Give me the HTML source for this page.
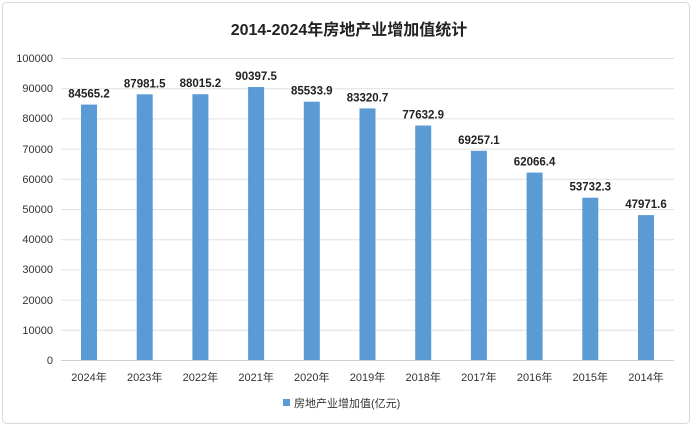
<!DOCTYPE html><html><head><meta charset="utf-8"><style>body{margin:0;background:#fff}</style></head><body>
<svg width="698" height="434" xmlns="http://www.w3.org/2000/svg" font-family="Liberation Sans, Noto Sans CJK SC, sans-serif">
<rect x="2.5" y="2.5" width="687" height="421" rx="4" fill="#fff" stroke="#d9d9d9"/>
<text x="349" y="35" text-anchor="middle" font-size="16" font-weight="bold" fill="#222">2014-2024年房地产业增加值统计</text>
<g stroke="#e0e0e0" stroke-width="1">
<line x1="61" x2="674" y1="58.5" y2="58.5"/><line x1="61" x2="674" y1="88.7" y2="88.7"/><line x1="61" x2="674" y1="118.9" y2="118.9"/><line x1="61" x2="674" y1="149.1" y2="149.1"/><line x1="61" x2="674" y1="179.3" y2="179.3"/><line x1="61" x2="674" y1="209.5" y2="209.5"/><line x1="61" x2="674" y1="239.7" y2="239.7"/><line x1="61" x2="674" y1="269.9" y2="269.9"/><line x1="61" x2="674" y1="300.1" y2="300.1"/><line x1="61" x2="674" y1="330.3" y2="330.3"/>
</g>
<line x1="61" x2="674" y1="360.5" y2="360.5" stroke="#d0d0d0"/>
<g font-size="11" fill="#333" text-anchor="end">
<text x="53" y="62">100000</text><text x="53" y="92">90000</text><text x="53" y="122">80000</text><text x="53" y="153">70000</text><text x="53" y="183">60000</text><text x="53" y="213">50000</text><text x="53" y="243">40000</text><text x="53" y="273">30000</text><text x="53" y="304">20000</text><text x="53" y="334">10000</text><text x="53" y="364">0</text>
</g>
<g fill="#5b9bd5">
<rect x="81" y="104.6" width="16" height="255.4"/>
<rect x="136.7" y="94.3" width="16" height="265.7"/>
<rect x="192.4" y="94.2" width="16" height="265.8"/>
<rect x="248.1" y="87" width="16" height="273"/>
<rect x="303.8" y="101.7" width="16" height="258.3"/>
<rect x="359.5" y="108.4" width="16" height="251.6"/>
<rect x="415.2" y="125.5" width="16" height="234.5"/>
<rect x="470.9" y="150.8" width="16" height="209.2"/>
<rect x="526.6" y="172.6" width="16" height="187.4"/>
<rect x="582.3" y="197.7" width="16" height="162.3"/>
<rect x="638" y="215.1" width="16" height="144.9"/>
</g>
<g font-size="11.5" font-weight="bold" fill="#222" text-anchor="middle">
<text x="89" y="97.6">84565.2</text>
<text x="144.7" y="87.3">87981.5</text>
<text x="200.4" y="87.2">88015.2</text>
<text x="256.1" y="80">90397.5</text>
<text x="311.8" y="94.7">85533.9</text>
<text x="367.5" y="101.4">83320.7</text>
<text x="423.2" y="118.5">77632.9</text>
<text x="478.9" y="143.8">69257.1</text>
<text x="534.6" y="165.6">62066.4</text>
<text x="590.3" y="190.7">53732.3</text>
<text x="646" y="208.1">47971.6</text>
</g>
<g font-size="11" fill="#333" text-anchor="middle">
<text x="89" y="381">2024年</text><text x="144.7" y="381">2023年</text><text x="200.4" y="381">2022年</text><text x="256.1" y="381">2021年</text><text x="311.8" y="381">2020年</text><text x="367.5" y="381">2019年</text><text x="423.2" y="381">2018年</text><text x="478.9" y="381">2017年</text><text x="534.6" y="381">2016年</text><text x="590.3" y="381">2015年</text><text x="646" y="381">2014年</text>
</g>
<rect x="283" y="399" width="7" height="7" fill="#5b9bd5"/>
<text x="294" y="407" font-size="11" fill="#333">房地产业增加值(亿元)</text>
</svg></body></html>
